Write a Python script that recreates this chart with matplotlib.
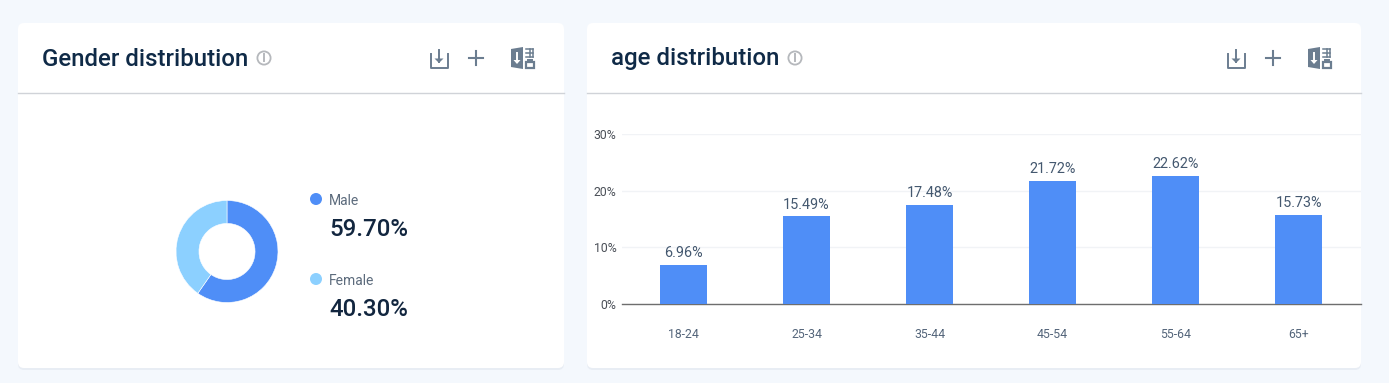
import matplotlib
matplotlib.use('Agg')
import matplotlib.pyplot as plt
from matplotlib.patches import FancyBboxPatch, Circle, Polygon, Rectangle

plt.rcParams['font.family'] = ['Roboto', 'DejaVu Sans']

W, H = 1389, 383

genders = ['Male', 'Female']
gender_values = [59.70, 40.30]
gender_colors = ['#4f8ef7', '#8cd0ff']

ages = ['18-24', '25-34', '35-44', '45-54', '55-64', '65+']
age_values = [6.96, 15.49, 17.48, 21.72, 22.62, 15.73]
age_ticks = [0, 10, 20, 30]

titles = ['Gender distribution', 'age distribution']

def axes_px(x0, y0, x1, y1):
    return fig.add_axes([x0 / W, 1 - y1 / H, (x1 - x0) / W, (y1 - y0) / H])

fig = plt.figure(figsize=(W / 100, H / 100), dpi=100, facecolor='#f4f8fd')

# page layer, pixel coords
bg = fig.add_axes([0, 0, 1, 1])
bg.set_xlim(0, W)
bg.set_ylim(H, 0)
bg.axis('off')

for x0, x1 in [(18, 564), (587, 1361)]:
    # soft shadow under the card
    bg.add_patch(FancyBboxPatch((x0 + 4, 29), x1 - x0 - 8, 337, boxstyle='round,pad=4,rounding_size=6',
                                fc='#e8edf4', ec='none'))
    bg.add_patch(FancyBboxPatch((x0 + 4, 27), x1 - x0 - 8, 337, boxstyle='round,pad=4,rounding_size=6',
                                fc='white', ec='none'))
    bg.plot([x0, x1], [93, 93], color='#d0d3d8', lw=1)

ink = '#6b7d90'

def info_icon(x, y):
    bg.add_patch(Circle((x, y), 6.6, fc='none', ec='#b5b8bc', lw=1.3))
    bg.plot([x, x], [y - 0.8, y + 3.2], color='#b5b8bc', lw=1.4)
    bg.plot([x, x], [y - 3.6, y - 2.6], color='#b5b8bc', lw=1.4)

def download_icon(x, y):
    bg.plot([x - 8.5, x - 8.5, x + 8.5, x + 8.5], [y - 5, y + 8.5, y + 8.5, y - 5], color=ink, lw=1.4)
    bg.plot([x, x], [y - 9, y + 3], color=ink, lw=1.4)
    bg.add_patch(Polygon([[x - 4.5, y - 0.5], [x + 4.5, y - 0.5], [x, y + 4]], fc=ink, ec='none'))

def plus_icon(x, y):
    bg.plot([x - 7, x + 7], [y, y], color=ink, lw=1.5)
    bg.plot([x, x], [y - 7, y + 7], color=ink, lw=1.5)

def export_icon(x, y):
    bg.add_patch(Polygon([[x - 12, y - 9], [x, y - 11], [x, y + 11], [x - 12, y + 9]], fc=ink, ec='none'))
    bg.plot([x - 6, x - 6], [y - 5, y + 4], color='white', lw=1.4)
    bg.add_patch(Polygon([[x - 9.5, y + 2], [x - 2.5, y + 2], [x - 6, y + 6]], fc='white', ec='none'))
    # little table and lock on the right
    bg.plot([x + 3, x + 10], [y - 9.5, y - 9.5], color=ink, lw=1.1)
    bg.plot([x + 3, x + 10], [y - 5.5, y - 5.5], color=ink, lw=1.1)
    bg.plot([x + 3, x + 10], [y - 1.5, y - 1.5], color=ink, lw=1.1)
    bg.plot([x + 10, x + 10], [y - 9.5, y - 1.5], color=ink, lw=1.1)
    bg.plot([x + 6.5, x + 6.5], [y - 9.5, y - 1.5], color=ink, lw=1.1)
    bg.add_patch(Rectangle((x + 2.5, y + 3.5), 8, 6.5, fc='none', ec=ink, lw=1.6))
    bg.plot([x + 4.5, x + 8.5], [y + 1.5, y + 1.5], color=ink, lw=1.4)

bg.text(42, 59, titles[0], fontsize=17.3, fontweight='medium', color='#0f2a47', va='center', ha='left')
bg.text(611, 59, titles[1], fontsize=17.3, fontweight='medium', color='#0f2a47', va='center', ha='left')
info_icon(264, 58)
info_icon(795, 58)
download_icon(439, 59)
plus_icon(476, 58)
export_icon(523, 58)
download_icon(1236, 59)
plus_icon(1273, 58)
export_icon(1320, 58)

# donut
ax1 = axes_px(176, 200.5, 278, 302.5)
ax1.pie(gender_values, colors=gender_colors, startangle=90, counterclock=False, radius=1,
        wedgeprops=dict(width=0.45, edgecolor='white', linewidth=0.4))
ax1.set_xlim(-1, 1)
ax1.set_ylim(-1, 1)

# legend
for name, val, col, y in zip(genders, gender_values, gender_colors, [201, 281]):
    bg.add_patch(Circle((316, y - 2), 6, fc=col, ec='none'))
    bg.text(329, y, name, fontsize=10, color='#5c6b7c', va='center', ha='left')
    bg.text(329, y + 28, '%.2f%%' % val, fontsize=17.3, fontweight='medium', color='#12263f', va='center', ha='left')

# bars
ax2 = axes_px(622, 134.2, 1361, 304)
ax2.patch.set_alpha(0)
ax2.bar(range(len(ages)), age_values, width=0.382, color='#4f8ef7', zorder=3)
ax2.set_xlim(-0.5, 5.508)
ax2.set_ylim(0, 30)
ax2.set_xticks(range(len(ages)))
ax2.set_xticklabels(ages, fontsize=8.8, color='#54657a')
ax2.set_yticks(age_ticks)
ax2.set_yticklabels(['%d%%' % t for t in age_ticks], fontsize=8.8, color='#4a4f57')
ax2.tick_params(axis='both', length=0)
ax2.tick_params(axis='x', pad=17)
ax2.tick_params(axis='y', pad=4)
ax2.grid(axis='y', color='#f1f3f6', lw=1)
ax2.set_axisbelow(True)
for s in ['top', 'right', 'left']:
    ax2.spines[s].set_visible(False)
ax2.spines['bottom'].set_color('#6e6e6e')
ax2.spines['bottom'].set_linewidth(1)
for i, v in enumerate(age_values):
    ax2.annotate('%.2f%%' % v, (i, v), xytext=(0, 3.3), textcoords='offset points', ha='center', va='bottom',
                 fontsize=10.4, color='#44586f', clip_on=False)

fig.savefig('out.png', dpi=100, facecolor=fig.get_facecolor())
